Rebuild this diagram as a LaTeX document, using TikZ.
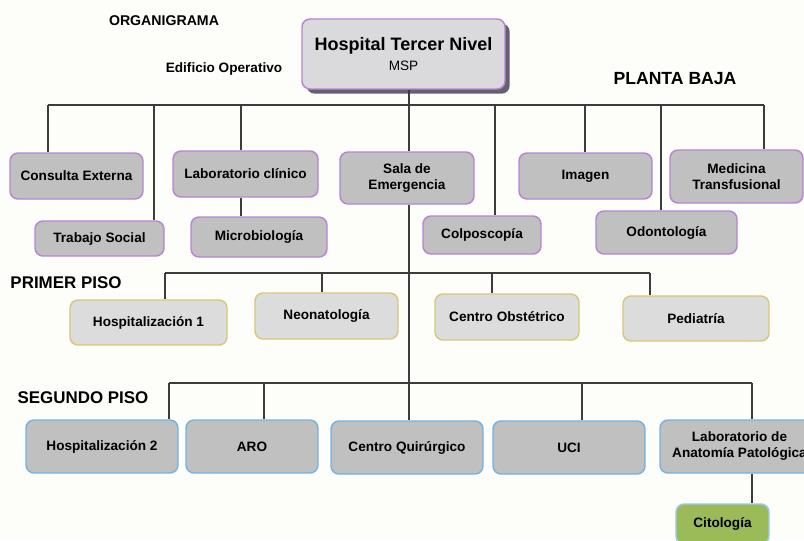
\documentclass[tikz,border=0pt]{standalone}
\usepackage{fontspec}
\setmainfont{Liberation Sans}
\usetikzlibrary{shadows}
\definecolor{fondo}{HTML}{FDFDFA}
\definecolor{grisbox}{HTML}{C0C0C0}
\definecolor{grisclaro}{HTML}{DCDCDC}
\definecolor{gristop}{HTML}{DADADD}
\definecolor{lila}{HTML}{B784D6}
\definecolor{mostaza}{HTML}{D8C77A}
\definecolor{celeste}{HTML}{72B3E2}
\definecolor{verde}{HTML}{9BBB59}
\definecolor{sombra}{HTML}{65606E}
\definecolor{linea}{HTML}{3C3C3C}

\begin{document}
\begin{tikzpicture}[x=0.75pt,y=-0.75pt,line width=1pt,
  font=\bfseries\fontsize{10.2}{12}\selectfont,
  caja/.style={rounded corners=6pt,line width=1.1pt,align=center,inner sep=2pt},
  baja/.style={caja,draw=lila,fill=grisbox},
  primer/.style={caja,draw=mostaza,fill=grisclaro},
  segundo/.style={caja,draw=celeste,fill=grisbox},
  sz/.style 2 args={minimum width=#1*0.75pt,minimum height=#2*0.75pt},
  piso/.style={font=\bfseries\fontsize{12.7}{14}\selectfont}]
  \fill[fondo] (0,0) rectangle (804,540);
  \useasboundingbox (0,0) rectangle (804,540);
  % titulos
  \node[font=\bfseries\fontsize{10.6}{12}\selectfont] (org) at (164,21) {ORGANIGRAMA};
  \node[font=\bfseries\fontsize{10.2}{12}\selectfont] (edif) at (224,69) {Edificio Operativo};
  \node[piso,font=\bfseries\fontsize{13.2}{15}\selectfont] (planta) at (675,79) {PLANTA BAJA};
  \node[piso] (ppiso) at (66,283) {PRIMER PISO};
  \node[piso] (spiso) at (83,398) {SEGUNDO PISO};
  % direccion
  \node[caja,draw=lila,fill=gristop,sz={203}{70},
    drop shadow={shadow xshift=3.5pt,shadow yshift=-3.5pt,fill=sombra,opacity=1}]
    (hos) at (403.5,54) {{\fontsize{13.5}{16}\selectfont Hospital Tercer Nivel}\\[3pt]
    {\mdseries MSP}};
  % planta baja
  \node[baja,sz={133}{46}] (ce) at (76.5,176) {Consulta Externa};
  \node[baja,sz={129}{35}] (ts) at (99.5,238.5) {Trabajo Social};
  \node[baja,sz={145}{46}] (lc) at (245.5,174) {Laboratorio clínico};
  \node[baja,sz={136}{40}] (mb) at (259,237) {Microbiología};
  \node[baja,sz={134}{52}] (se) at (407,178) {Sala de\\Emergencia};
  \node[baja,sz={118}{38}] (co) at (482,235) {Colposcopía};
  \node[baja,sz={133}{46}] (im) at (585.5,176) {Imagen};
  \node[baja,sz={141}{43}] (od) at (666.5,232.5) {Odontología};
  \node[baja,sz={133}{53}] (mt) at (736.5,176.5) {Medicina\\Transfusional};
  % primer piso
  \node[primer,sz={157}{45}] (h1) at (148.5,322.5) {Hospitalización 1};
  \node[primer,sz={143}{46}] (ne) at (326.5,316) {Neonatología};
  \node[primer,sz={144}{46}] (cob) at (507,317) {Centro Obstétrico};
  \node[primer,sz={146}{45}] (pe) at (696,318.5) {Pediatría};
  % segundo piso
  \node[segundo,sz={152}{53}] (h2) at (102,446.5) {Hospitalización 2};
  \node[segundo,sz={132}{53}] (aro) at (252,446.5) {ARO};
  \node[segundo,sz={152}{53}] (cq) at (407,447.5) {Centro Quirúrgico};
  \node[segundo,sz={152}{53}] (uci) at (569,447.5) {UCI};
  \node[segundo,sz={159}{53}] (la) at (739.5,446.5) {Laboratorio de\\Anatomía Patológica};
  \node[caja,draw=celeste!70,fill=verde,sz={93}{40}] (ci) at (722.5,524) {Citología};
  % conectores
  \begin{scope}[draw=linea]
    \coordinate (eje) at (409,105);
    \draw (hos.south -| eje) -- (eje |- se.north);
    \draw (se.south -| eje) -- (eje |- cq.north);
    \draw (48,105) coordinate (pbL) -- (764,105) coordinate (pbR);
    \foreach \x/\n in {48/ce,154/ts,241/lc,495/co,585/im,661/od,764/mt} {
      \coordinate (b\n) at (\x,105);
      \draw (b\n) -- (b\n |- \n.north);
    }
    \draw (blc |- lc.south) -- (blc |- mb.north);
    \draw (165,273) coordinate (ppL) -- (650,273) coordinate (ppR);
    \foreach \x/\n in {165/h1,322/ne,492/cob,650/pe} {
      \coordinate (b\n) at (\x,273);
      \draw (b\n) -- (b\n |- \n.north);
    }
    \draw (169,383) coordinate (spL) -- (752,383) coordinate (spR);
    \foreach \x/\n in {169/h2,264/aro,582/uci,752/la} {
      \coordinate (b\n) at (\x,383);
      \draw (b\n) -- (b\n |- \n.north);
    }
    \draw (bla |- la.south) -- (bla |- ci.north);
  \end{scope}
\end{tikzpicture}
\end{document}
